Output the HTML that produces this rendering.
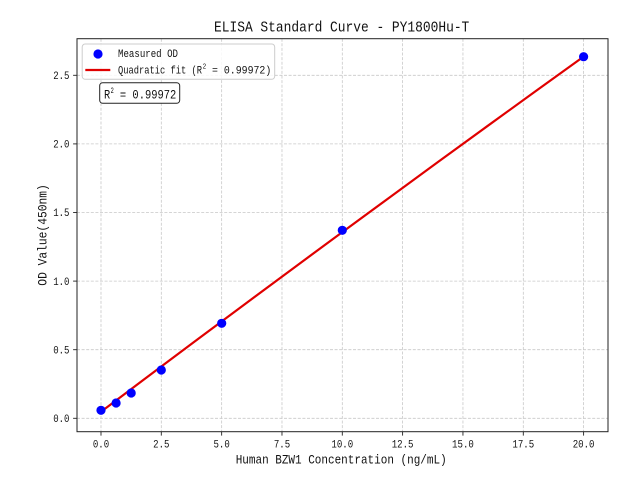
<!DOCTYPE html>
<html>
<head>
<meta charset="utf-8">
<style>
html,body{margin:0;padding:0;background:#fff;}
svg{display:block;}
text{font-family:"Liberation Mono","Noto Sans CJK SC",monospace;fill:#111;}
</style>
</head>
<body>
<svg width="640" height="480" viewBox="0 0 640 480" xmlns="http://www.w3.org/2000/svg">
<rect x="0" y="0" width="640" height="480" fill="#fff"/>
<!-- grid -->
<g stroke="#c8c8c8" stroke-width="0.8" stroke-dasharray="3,1.6" fill="none">
<line x1="101" y1="38.7" x2="101" y2="431.7"/>
<line x1="161.3" y1="38.7" x2="161.3" y2="431.7"/>
<line x1="221.65" y1="38.7" x2="221.65" y2="431.7"/>
<line x1="281.98" y1="38.7" x2="281.98" y2="431.7"/>
<line x1="342.3" y1="38.7" x2="342.3" y2="431.7"/>
<line x1="402.6" y1="38.7" x2="402.6" y2="431.7"/>
<line x1="462.95" y1="38.7" x2="462.95" y2="431.7"/>
<line x1="523.3" y1="38.7" x2="523.3" y2="431.7"/>
<line x1="583.6" y1="38.7" x2="583.6" y2="431.7"/>
<line x1="77" y1="418.3" x2="608" y2="418.3"/>
<line x1="77" y1="349.7" x2="608" y2="349.7"/>
<line x1="77" y1="281.1" x2="608" y2="281.1"/>
<line x1="77" y1="212.5" x2="608" y2="212.5"/>
<line x1="77" y1="143.9" x2="608" y2="143.9"/>
<line x1="77" y1="75.3" x2="608" y2="75.3"/>
</g>
<!-- fit line -->
<polyline fill="none" stroke="#e00000" stroke-width="2.2" stroke-linejoin="round" stroke-linecap="butt"
points="101,411.7 149.26,375.5 197.52,339.4 245.78,303.5 294.04,267.7 342.3,232.1 390.56,196.7 438.82,161.4 487.08,126.3 535.34,91.4 583.6,56.6"/>
<!-- points -->
<g fill="#0000ff">
<circle cx="101" cy="410.3" r="4.6"/>
<circle cx="116.1" cy="403" r="4.6"/>
<circle cx="131.2" cy="393" r="4.6"/>
<circle cx="161.3" cy="370" r="4.6"/>
<circle cx="221.7" cy="323.3" r="4.6"/>
<circle cx="342.3" cy="230.3" r="4.6"/>
<circle cx="583.6" cy="56.7" r="4.6"/>
</g>
<!-- spines -->
<rect x="77" y="38.7" width="531" height="393" fill="none" stroke="#222" stroke-width="1"/>
<!-- ticks -->
<g stroke="#222" stroke-width="0.9">
<line x1="101" y1="431.7" x2="101" y2="435.6"/>
<line x1="161.3" y1="431.7" x2="161.3" y2="435.6"/>
<line x1="221.65" y1="431.7" x2="221.65" y2="435.6"/>
<line x1="281.98" y1="431.7" x2="281.98" y2="435.6"/>
<line x1="342.3" y1="431.7" x2="342.3" y2="435.6"/>
<line x1="402.6" y1="431.7" x2="402.6" y2="435.6"/>
<line x1="462.95" y1="431.7" x2="462.95" y2="435.6"/>
<line x1="523.3" y1="431.7" x2="523.3" y2="435.6"/>
<line x1="583.6" y1="431.7" x2="583.6" y2="435.6"/>
<line x1="73.1" y1="418.3" x2="77" y2="418.3"/>
<line x1="73.1" y1="349.7" x2="77" y2="349.7"/>
<line x1="73.1" y1="281.1" x2="77" y2="281.1"/>
<line x1="73.1" y1="212.5" x2="77" y2="212.5"/>
<line x1="73.1" y1="143.9" x2="77" y2="143.9"/>
<line x1="73.1" y1="75.3" x2="77" y2="75.3"/>
</g>
<!-- x tick labels -->
<g font-size="11" text-anchor="middle">
<text x="101" y="447.6" textLength="16.3" lengthAdjust="spacingAndGlyphs">0.0</text>
<text x="161.3" y="447.6" textLength="16.3" lengthAdjust="spacingAndGlyphs">2.5</text>
<text x="221.65" y="447.6" textLength="16.3" lengthAdjust="spacingAndGlyphs">5.0</text>
<text x="281.98" y="447.6" textLength="16.3" lengthAdjust="spacingAndGlyphs">7.5</text>
<text x="342.3" y="447.6" textLength="21.8" lengthAdjust="spacingAndGlyphs">10.0</text>
<text x="402.6" y="447.6" textLength="21.8" lengthAdjust="spacingAndGlyphs">12.5</text>
<text x="462.95" y="447.6" textLength="21.8" lengthAdjust="spacingAndGlyphs">15.0</text>
<text x="523.3" y="447.6" textLength="21.8" lengthAdjust="spacingAndGlyphs">17.5</text>
<text x="583.6" y="447.6" textLength="21.8" lengthAdjust="spacingAndGlyphs">20.0</text>
</g>
<!-- y tick labels -->
<g font-size="11">
<text x="53.2" y="422" textLength="16.3" lengthAdjust="spacingAndGlyphs">0.0</text>
<text x="53.2" y="353.4" textLength="16.3" lengthAdjust="spacingAndGlyphs">0.5</text>
<text x="53.2" y="284.8" textLength="16.3" lengthAdjust="spacingAndGlyphs">1.0</text>
<text x="53.2" y="216.2" textLength="16.3" lengthAdjust="spacingAndGlyphs">1.5</text>
<text x="53.2" y="147.6" textLength="16.3" lengthAdjust="spacingAndGlyphs">2.0</text>
<text x="53.2" y="79" textLength="16.3" lengthAdjust="spacingAndGlyphs">2.5</text>
</g>
<!-- axis labels -->
<text x="235.7" y="463.5" font-size="12.5" textLength="211" lengthAdjust="spacingAndGlyphs">Human BZW1 Concentration (ng/mL)</text>
<text transform="translate(46.6,285.7) rotate(-90)" x="0" y="0" font-size="12.5" textLength="101.5" lengthAdjust="spacingAndGlyphs">OD Value(450nm)</text>
<!-- title -->
<text x="214" y="31.3" font-size="14.5" textLength="255.3" lengthAdjust="spacingAndGlyphs">ELISA Standard Curve - PY1800Hu-T</text>
<!-- legend -->
<rect x="82.2" y="44" width="192.5" height="35.3" rx="3" ry="3" fill="#fff" fill-opacity="0.85" stroke="#cccccc" stroke-width="1"/>
<circle cx="98" cy="54" r="4.6" fill="#0000ff"/>
<line x1="85.3" y1="70" x2="110.3" y2="70" stroke="#e00000" stroke-width="2.2"/>
<g font-size="11">
<text x="118" y="57" textLength="60" lengthAdjust="spacingAndGlyphs">Measured OD</text>
<text x="118" y="73.3" textLength="84" lengthAdjust="spacingAndGlyphs">Quadratic fit (R</text>
<text x="202.6" y="68.5" font-size="7.5" textLength="3.6" lengthAdjust="spacingAndGlyphs">2</text>
<text x="212" y="73.3" textLength="59.3" lengthAdjust="spacingAndGlyphs">= 0.99972)</text>
</g>
<!-- R2 box -->
<rect x="99.7" y="82.7" width="80" height="20.6" rx="3" ry="3" fill="#fff" stroke="#222" stroke-width="1"/>
<g font-size="12.5">
<text x="104" y="98.7" textLength="6.2" lengthAdjust="spacingAndGlyphs">R</text>
<text x="110.6" y="93" font-size="8.5" textLength="3.2" lengthAdjust="spacingAndGlyphs">2</text>
<text x="119.9" y="98.7" textLength="56.4" lengthAdjust="spacingAndGlyphs">= 0.99972</text>
</g>
</svg>
</body>
</html>
